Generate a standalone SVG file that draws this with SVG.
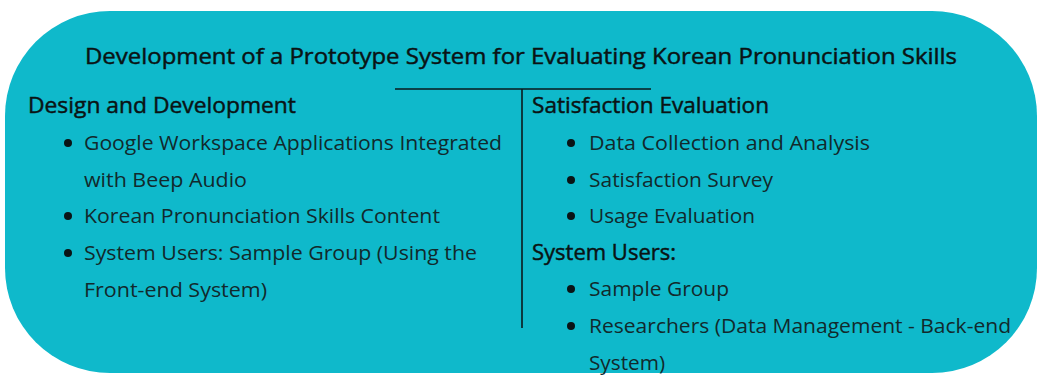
<svg xmlns="http://www.w3.org/2000/svg" width="1038" height="377" viewBox="0 0 1038 377">
<style>
.t{font-family:"Open Sans","Noto Sans","Liberation Sans",sans-serif;fill:#0a1314;}
.title{font-size:21px;font-weight:400;stroke:#0a1314;stroke-width:0.45;}
.h{font-size:21px;font-weight:400;stroke:#0a1314;stroke-width:0.45;}
.b{font-size:20px;font-weight:400;fill:#12292c;}
.ln{stroke:#0a1a1c;stroke-width:1.6;fill:none;}
.dot{fill:#0a1416;}
</style>
<rect id="background" x="5" y="11" width="1032" height="362" rx="105" ry="105" fill="#0FB9CB"/>
<g id="title">
<text class="t title" x="85" y="64" textLength="872" lengthAdjust="spacingAndGlyphs">Development of a Prototype System for Evaluating Korean Pronunciation Skills</text>
</g>
<g id="connectors">
<line class="ln" x1="395" y1="89" x2="651" y2="89"/>
<line class="ln" x1="522" y1="89" x2="522" y2="328"/>
</g>
<g id="design-development">
<text class="t h" x="28" y="113" textLength="268" lengthAdjust="spacingAndGlyphs">Design and Development</text>
<circle class="dot" cx="68" cy="143" r="4"/>
<text class="t b" x="84" y="150" textLength="418" lengthAdjust="spacingAndGlyphs">Google Workspace Applications Integrated</text>
<text class="t b" x="84" y="187" textLength="163" lengthAdjust="spacingAndGlyphs">with Beep Audio</text>
<circle class="dot" cx="68" cy="216" r="4"/>
<text class="t b" x="84" y="223" textLength="356" lengthAdjust="spacingAndGlyphs">Korean Pronunciation Skills Content</text>
<circle class="dot" cx="68" cy="253" r="4"/>
<text class="t b" x="84" y="260" textLength="393" lengthAdjust="spacingAndGlyphs">System Users: Sample Group (Using the</text>
<text class="t b" x="84" y="297" textLength="183" lengthAdjust="spacingAndGlyphs">Front-end System)</text>
</g>
<g id="satisfaction-evaluation">
<text class="t h" x="532" y="113" textLength="237" lengthAdjust="spacingAndGlyphs">Satisfaction Evaluation</text>
<circle class="dot" cx="571" cy="143" r="4"/>
<text class="t b" x="589" y="150" textLength="281" lengthAdjust="spacingAndGlyphs">Data Collection and Analysis</text>
<circle class="dot" cx="571" cy="180" r="4"/>
<text class="t b" x="589" y="187" textLength="184" lengthAdjust="spacingAndGlyphs">Satisfaction Survey</text>
<circle class="dot" cx="571" cy="216" r="4"/>
<text class="t b" x="589" y="223" textLength="166" lengthAdjust="spacingAndGlyphs">Usage Evaluation</text>
</g>
<g id="system-users">
<text class="t h" x="532" y="260" textLength="144" lengthAdjust="spacingAndGlyphs">System Users:</text>
<circle class="dot" cx="571" cy="289" r="4"/>
<text class="t b" x="589" y="296" textLength="140" lengthAdjust="spacingAndGlyphs">Sample Group</text>
<circle class="dot" cx="571" cy="326" r="4"/>
<text class="t b" x="589" y="333" textLength="422" lengthAdjust="spacingAndGlyphs">Researchers (Data Management - Back-end</text>
<text class="t b" x="589" y="370" textLength="76" lengthAdjust="spacingAndGlyphs">System)</text>
</g>
</svg>
